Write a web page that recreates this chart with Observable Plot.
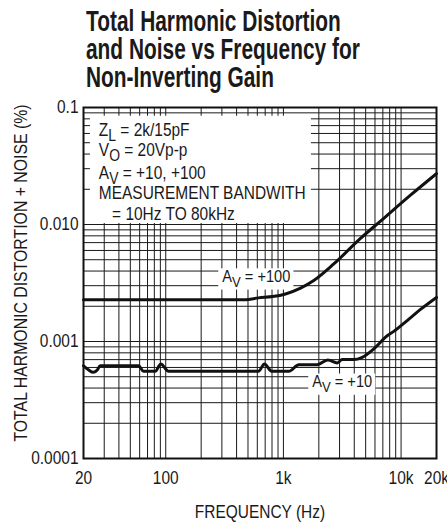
<!DOCTYPE html>
<html><head><meta charset="utf-8">
<script src="https://cdn.jsdelivr.net/npm/d3@7"></script>
<script src="https://cdn.jsdelivr.net/npm/@observablehq/plot@0.6"></script>
<style>
body{margin:0;background:#fff;width:447px;height:531px;overflow:hidden}
#title{height:95px;box-sizing:border-box;padding:8px 0 0 86px;}
#title div{font-family:'Liberation Sans',Arial,sans-serif;font-weight:bold;font-size:29px;line-height:27.8px;transform:scaleX(0.72);transform-origin:0 0;white-space:nowrap;color:#1a1a1a}
</style></head><body>
<div id="title"><div id="tt"></div></div>
<div id="chart"></div>
<script>
const titleLines = ["Total Harmonic Distortion", "and Noise vs Frequency for", "Non-Inverting Gain"];
const xLabel = "FREQUENCY (Hz)";
const yLabel = "TOTAL HARMONIC DISTORTION + NOISE (%)";

const xTicks = [20, 100, 1000, 10000, 20000];
const xTickLabels = ["20", "100", "1k", "10k", "20k"];
const yTicks = [0.0001, 0.001, 0.01, 0.1];
const yTickLabels = ["0.0001", "0.001", "0.010", "0.1"];
const xGrid = [30,40,50,60,70,80,90,100,200,300,400,500,600,700,800,900,1000,2000,3000,4000,5000,6000,7000,8000,9000,10000];
const yGrid = [0.0002,0.0003,0.0004,0.0005,0.0006,0.0007,0.0008,0.0009,0.001,0.002,0.003,0.004,0.005,0.006,0.007,0.008,0.009,0.01,0.02,0.03,0.04,0.05,0.06,0.07,0.08,0.09];

// A_V = +100
const freqAv100 = [20, 476, 614, 808, 1042, 1398, 1812, 2680, 4518, 7130, 12020, 20000];
const thdAv100  = [0.00227, 0.00227, 0.00236, 0.00242, 0.00255, 0.00286, 0.00332, 0.0046, 0.0076, 0.0113, 0.0178, 0.0272];
// A_V = +10
const freqAv10 = [20, 22, 24.3, 26.3, 27.7, 58.7, 64.7, 81.4, 90.8, 105.6, 614, 690, 796, 1112, 1352, 1938, 2384, 2864, 3160, 3966, 4674, 5866, 7620, 8670, 11270, 14620, 20000];
const thdAv10  = [0.00062, 0.000574, 0.000545, 0.000574, 0.00062, 0.00062, 0.000556, 0.000556, 0.000643, 0.000556, 0.000556, 0.000643, 0.000556, 0.000556, 0.000634, 0.000634, 0.000695, 0.000656, 0.0007, 0.0007, 0.000733, 0.000865, 0.00112, 0.00122, 0.00151, 0.00188, 0.00238];

const conditionLines = ["Z_L = 2k/15pF", "V_O = 20Vp-p", "A_V = +10, +100", "MEASUREMENT BANDWITH", "= 10Hz TO 80kHz"];
const curveLabels = ["A_V = +100", "A_V = +10"];

// annotation placement (data units)
const conditionPos = [{x:27,y:0.064},{x:27,y:0.0431},{x:27,y:0.0275},{x:27,y:0.0184},{x:35,y:0.0122}];
const conditionBox = [{x1:22.9, x2:1730, y1:0.0102, y2:0.0842}];
const curveLabelPos = [{x:302,y:0.0036},{x:1756,y:0.000454}];

document.getElementById("tt").innerHTML = titleLines.join("<br>");

const av100 = freqAv100.map((f,i)=>({f, v: thdAv100[i]}));
const av10 = freqAv10.map((f,i)=>({f, v: thdAv10[i]}));
const cond = conditionLines.map((t,i)=>({t, ...conditionPos[i]}));
const labs = curveLabels.map((t,i)=>({t, ...curveLabelPos[i]}));
const xFmt = new Map(xTicks.map((d,i)=>[d, xTickLabels[i]]));
const yFmt = new Map(yTicks.map((d,i)=>[d, yTickLabels[i]]));
const FONT = "'Liberation Sans',Arial,sans-serif";

const svg = Plot.plot({
  width: 447, height: 436,
  marginLeft: 83, marginRight: 11, marginTop: 12, marginBottom: 73,
  style: {fontFamily: FONT, fontSize: "18px", color: "#1a1a1a", background: "white", overflow: "visible"},
  x: {type: "log", domain: [20, 20000]},
  y: {type: "log", domain: [0.0001, 0.1]},
  marks: [
    Plot.ruleX(xGrid, {stroke: "#1a1a1a", strokeWidth: 1}),
    Plot.ruleY(yGrid, {stroke: "#1a1a1a", strokeWidth: 1}),
    Plot.rect(conditionBox, {x1: "x1", x2: "x2", y1: "y1", y2: "y2", fill: "white"}),
    Plot.line(av100, {x: "f", y: "v", stroke: "#111", strokeWidth: 3, curve: "monotone-x"}),
    Plot.line(av10, {x: "f", y: "v", stroke: "#111", strokeWidth: 3, curve: "monotone-x"}),
    Plot.frame({stroke: "#111", strokeWidth: 2}),
    Plot.axisX({ticks: xTicks, tickFormat: d => xFmt.get(d), tickSize: 0, tickPadding: 13, label: null}),
    Plot.axisY({ticks: yTicks, tickFormat: d => yFmt.get(d), tickSize: 0, tickPadding: 5, label: null}),
    Plot.text(cond, {x: "x", y: "y", text: "t", textAnchor: "start", fill: "#1a1a1a"}),
    Plot.text(labs, {x: "x", y: "y", text: "t", textAnchor: "start", fill: "#1a1a1a", fontSize: 17}),
    Plot.text([xLabel], {frameAnchor: "bottom", textAnchor: "middle", dy: 59, text: d => d, fill: "#1a1a1a"}),
    Plot.text([yLabel], {frameAnchor: "left", textAnchor: "middle", dx: -62, dy: -10, rotate: -90, text: d => d, fill: "#1a1a1a"})
  ]
});
document.getElementById("chart").appendChild(svg);

const ns = "http://www.w3.org/2000/svg";
const labelSet = new Set(curveLabels);
const rectGroup = svg.querySelector('g[aria-label="rect"]');
// subscripts, condensed text, white label backgrounds
svg.querySelectorAll("text").forEach(t => {
  const s = t.textContent;
  if (s.includes("_")) {
    const m = s.match(/^(.*?)_(\w)(.*)$/);
    while (t.firstChild) t.removeChild(t.firstChild);
    const a = document.createElementNS(ns, "tspan"); a.textContent = m[1];
    const b = document.createElementNS(ns, "tspan"); b.textContent = m[2]; b.setAttribute("dy", "5"); b.setAttribute("font-size", "0.9em");
    const c = document.createElementNS(ns, "tspan"); c.textContent = m[3]; c.setAttribute("dy", "-5");
    t.append(a, b, c);
  }
  const k = s === yLabel ? 0.88 : 0.86;
  let tr = t.getAttribute("transform") || "";
  const x = +(t.getAttribute("x") || 0), y = +(t.getAttribute("y") || 0);
  if (x || y) { tr += ` translate(${x},${y})`; t.removeAttribute("x"); t.removeAttribute("y"); }
  tr += ` scale(${k},1)`;
  t.setAttribute("transform", tr);
  if (labelSet.has(s)) {
    const bb = t.getBBox();
    const r = document.createElementNS(ns, "rect");
    r.setAttribute("x", bb.x - 4); r.setAttribute("y", bb.y + 2);
    r.setAttribute("width", bb.width + 8); r.setAttribute("height", bb.height - 2);
    r.setAttribute("fill", "white");
    r.setAttribute("transform", tr);
    rectGroup.parentNode.insertBefore(r, rectGroup.nextSibling);
  }
});
</script>
</body></html>
